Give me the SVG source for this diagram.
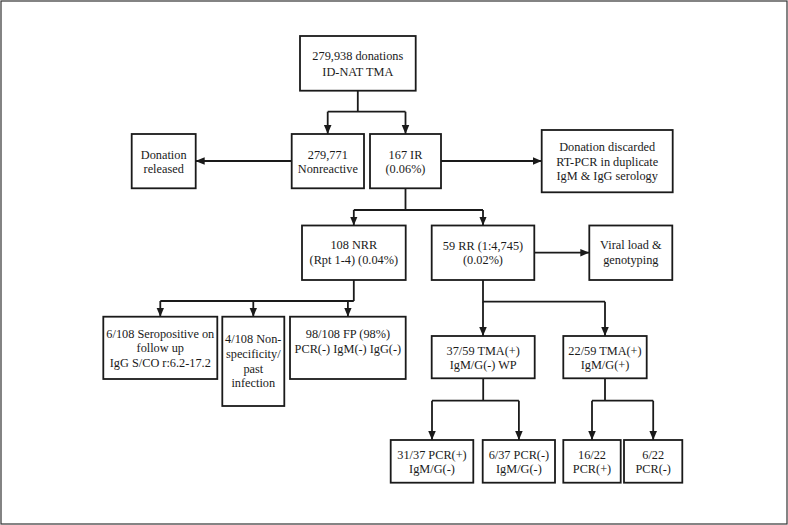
<svg xmlns="http://www.w3.org/2000/svg" width="788" height="525" viewBox="0 0 788 525">
<style>
.box{fill:#fff;stroke:#1a1a1a;stroke-width:1.8}
.t{font-family:"Liberation Serif","Times New Roman",serif;font-size:12.3px;fill:#1a1a1a;text-anchor:middle}
.c{fill:none;stroke:#1a1a1a;stroke-width:1.8}
.a{fill:none;stroke:#1a1a1a;stroke-width:1.8;marker-end:url(#ah)}
</style>
<defs>
<marker id="ah" viewBox="0 0 10 10" refX="10" refY="5" markerWidth="9" markerHeight="9" markerUnits="userSpaceOnUse" orient="auto">
<path d="M0,0.8 L10,5 L0,9.2 z" fill="#1a1a1a"/>
</marker>
</defs>
<rect x="1" y="1" width="786" height="523" fill="#fff" stroke="#333" stroke-width="1.2"/>
<g id="connectors">
<path class="c" d="M357.8 90.7 V111.7 M327.7 111.7 H405.5"/>
<path class="a" d="M327.7 111.7 V134"/>
<path class="a" d="M405.5 111.7 V134"/>
<path class="a" d="M291.7 161 H195.7"/>
<path class="a" d="M441 161 H541.7"/>
<path class="c" d="M405.5 188.3 V210 M353.8 210 H483"/>
<path class="a" d="M353.8 210 V225.5"/>
<path class="a" d="M483 210 V225.5"/>
<path class="a" d="M534.3 252.7 H589.3"/>
<path class="c" d="M353.8 280 V301 M160.3 301 H353.8"/>
<path class="a" d="M160.3 301 V316.7"/>
<path class="a" d="M253.3 301 V316.7"/>
<path class="a" d="M347.9 301 V316.7"/>
<path class="c" d="M483 280 V301.7 H605"/>
<path class="a" d="M483 301.7 V336"/>
<path class="a" d="M605 301.7 V336"/>
<path class="c" d="M483.2 378.3 V400.7 M432 400.7 H518.9"/>
<path class="a" d="M432 400.7 V440"/>
<path class="a" d="M518.9 400.7 V440"/>
<path class="c" d="M605 378.3 V400.7 M592 400.7 H653.2"/>
<path class="a" d="M592 400.7 V440"/>
<path class="a" d="M653.2 400.7 V440"/>
</g>
<g id="n-donations">
<rect class="box" x="300" y="36" width="115.7" height="54.7"/>
<text class="t" x="357.8" y="60.3">279,938 donations</text>
<text class="t" x="357.8" y="76">ID-NAT TMA</text>
</g>
<g id="n-released">
<rect class="box" x="131.7" y="134" width="64" height="54.3"/>
<text class="t" x="163.7" y="158.6">Donation</text>
<text class="t" x="163.7" y="172.6">released</text>
</g>
<g id="n-nonreactive">
<rect class="box" x="291.7" y="134" width="72.3" height="54.3"/>
<text class="t" x="327.8" y="158.6">279,771</text>
<text class="t" x="327.8" y="172.6">Nonreactive</text>
</g>
<g id="n-ir">
<rect class="box" x="370" y="134" width="71" height="54.3"/>
<text class="t" x="405.5" y="158.6">167 IR</text>
<text class="t" x="405.5" y="172.6">(0.06%)</text>
</g>
<g id="n-discarded">
<rect class="box" x="541.7" y="130" width="131" height="62.3"/>
<text class="t" x="607.2" y="151">Donation discarded</text>
<text class="t" x="607.2" y="166">RT-PCR in duplicate</text>
<text class="t" x="607.2" y="180">IgM &amp; IgG serology</text>
</g>
<g id="n-nrr">
<rect class="box" x="302" y="225.5" width="103.7" height="54.5"/>
<text class="t" x="353.8" y="249.3">108 NRR</text>
<text class="t" x="353.8" y="264.3">(Rpt 1-4) (0.04%)</text>
</g>
<g id="n-rr">
<rect class="box" x="431.7" y="225.5" width="102.6" height="54.5"/>
<text class="t" x="483" y="249.8">59 RR (1:4,745)</text>
<text class="t" x="483" y="264.3">(0.02%)</text>
</g>
<g id="n-viral">
<rect class="box" x="589.3" y="225.5" width="83" height="54.5"/>
<text class="t" x="630.8" y="249.3">Viral load &amp;</text>
<text class="t" x="630.8" y="264.3">genotyping</text>
</g>
<g id="n-seropositive">
<rect class="box" x="103.3" y="316.7" width="114" height="62.3"/>
<text class="t" x="160.3" y="337.6">6/108 Seropositive on</text>
<text class="t" x="160.3" y="352">follow up</text>
<text class="t" x="160.3" y="366.6">IgG S/CO r:6.2-17.2</text>
</g>
<g id="n-nonspecific">
<rect class="box" x="222.3" y="316.7" width="62" height="89.3"/>
<text class="t" x="253.3" y="343.3">4/108 Non-</text>
<text class="t" x="253.3" y="358.3">specificity/</text>
<text class="t" x="253.3" y="373.3">past</text>
<text class="t" x="253.3" y="387.3">infection</text>
</g>
<g id="n-fp">
<rect class="box" x="290" y="316.7" width="115.7" height="62.3"/>
<text class="t" x="347.9" y="337.6">98/108 FP (98%)</text>
<text class="t" x="347.9" y="352.6">PCR(-) IgM(-) IgG(-)</text>
</g>
<g id="n-wp">
<rect class="box" x="431.7" y="336" width="103" height="42.3"/>
<text class="t" x="483.2" y="355">37/59 TMA(+)</text>
<text class="t" x="483.2" y="368.6">IgM/G(-) WP</text>
</g>
<g id="n-tma22">
<rect class="box" x="563.3" y="336" width="83.4" height="42.3"/>
<text class="t" x="605" y="355">22/59 TMA(+)</text>
<text class="t" x="605" y="368.6">IgM/G(+)</text>
</g>
<g id="n-pcr31">
<rect class="box" x="390.7" y="440" width="82.6" height="42.7"/>
<text class="t" x="432" y="459.3">31/37 PCR(+)</text>
<text class="t" x="432" y="472.6">IgM/G(-)</text>
</g>
<g id="n-pcr6-37">
<rect class="box" x="482.7" y="440" width="72.3" height="42.7"/>
<text class="t" x="518.9" y="459.3">6/37 PCR(-)</text>
<text class="t" x="518.9" y="472.6">IgM/G(-)</text>
</g>
<g id="n-pcr16">
<rect class="box" x="563.3" y="440" width="57.4" height="42.7"/>
<text class="t" x="592" y="459.3">16/22</text>
<text class="t" x="592" y="472.6">PCR(+)</text>
</g>
<g id="n-pcr6-22">
<rect class="box" x="624" y="440" width="58.3" height="42.7"/>
<text class="t" x="653.2" y="459.3">6/22</text>
<text class="t" x="653.2" y="472.6">PCR(-)</text>
</g>
</svg>
